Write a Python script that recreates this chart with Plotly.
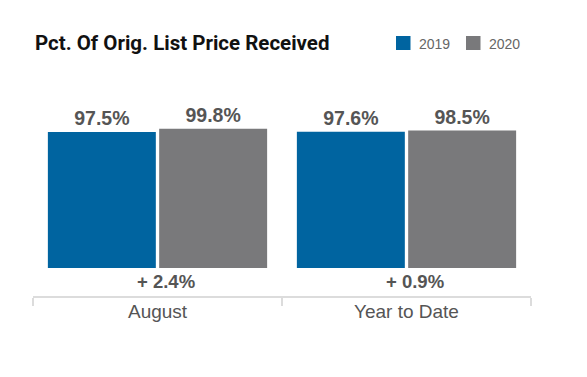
import plotly.graph_objects as go

categories = ["August", "Year to Date"]
series_names = ["2019", "2020"]
values_2019 = [97.5, 97.6]
values_2020 = [99.8, 98.5]
change_labels = ["+ 2.4%", "+ 0.9%"]
title_text = "Pct. Of Orig. List Price Received"

BLUE = "#0064a0"
GRAY = "#79797b"
TXT = "#555555"
FONT = "Liberation Sans, Arial, sans-serif"

W, H = 587, 377
PLOT_L, PLOT_R = 33, 531
PLOT_TOP, PLOT_BOT = 100, 296


def px_y(py):
    return (PLOT_BOT - py) / (PLOT_BOT - PLOT_TOP)


def px_x(px):
    return (px - PLOT_L) / (PLOT_R - PLOT_L)


colors = [BLUE, GRAY]
series_values = [values_2019, values_2020]

fig = go.Figure()
for name, vals, col in zip(series_names, series_values, colors):
    fig.add_trace(go.Bar(
        x=categories, y=vals, name=name, marker=dict(color=col, line=dict(width=0)),
        text=[f"<b>{v:.1f}%</b>" for v in vals], textposition="outside",
        textfont=dict(family=FONT, size=19.5, color=TXT),
        cliponaxis=False, showlegend=False,
    ))

# change labels under each group
for i, lab in enumerate(change_labels):
    fig.add_annotation(x=i + 0.034, y=-9.5, xref="x", yref="y", text=f"<b>{lab}</b>",
                       showarrow=False, font=dict(family=FONT, size=18.5, color=TXT))

# category labels
for i, cat in enumerate(categories):
    fig.add_annotation(x=i, xref="x", y=px_y(311), yref="paper", yanchor="middle",
                       text=cat, showarrow=False, font=dict(family=FONT, size=19, color=TXT))

# title
fig.add_annotation(x=px_x(33), xref="paper", xanchor="left", y=px_y(43), yref="paper", yanchor="middle",
                   text=f"<b>{title_text}</b>", showarrow=False,
                   font=dict(family="Roboto, Liberation Sans, sans-serif", size=20.5, color="#111111"))

# legend (manual)
legend_x = [396, 466]
for name, col, lx in zip(series_names, colors, legend_x):
    fig.add_shape(type="rect", xref="paper", yref="paper",
                  x0=px_x(lx), x1=px_x(lx + 14.5), y0=px_y(50), y1=px_y(36),
                  fillcolor=col, line=dict(width=0))
    fig.add_annotation(x=px_x(lx + 21), xref="paper", xanchor="left", y=px_y(43.5), yref="paper",
                       yanchor="middle", text=name, showarrow=False,
                       font=dict(family=FONT, size=14, color="#666666"))

fig.update_layout(
    width=W, height=H,
    margin=dict(l=PLOT_L, r=W - PLOT_R, t=PLOT_TOP, b=H - PLOT_BOT, pad=0),
    paper_bgcolor="white", plot_bgcolor="white",
    barmode="group", bargap=0.106, bargroupgap=0.03,
    xaxis=dict(range=[-0.5, 1.5], showline=True, linecolor="#dcdcdc", linewidth=2,
               ticks="outside", tickson="boundaries", ticklen=8, tickcolor="#dcdcdc", tickwidth=2,
               showticklabels=False, showgrid=False, zeroline=False, fixedrange=True),
    yaxis=dict(range=[-20.07, 120.4], visible=False, showgrid=False, zeroline=False, fixedrange=True),
)

fig.write_html("out.html", config={"displayModeBar": False},
               post_script="document.body.style.margin='0';")
